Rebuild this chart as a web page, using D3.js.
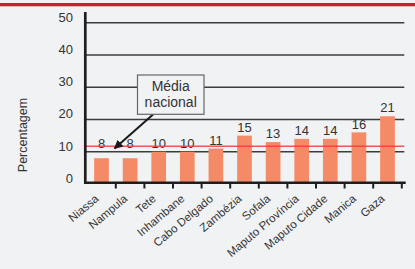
<!DOCTYPE html>
<html>
<head>
<meta charset="utf-8">
<script src="https://cdn.jsdelivr.net/npm/d3@7"></script>
<style>
  body { margin: 0; background: #f1f2f4; }
  svg { display: block; font-family: "Liberation Sans", Arial, sans-serif; }
</style>
</head>
<body>
<svg class="chart"></svg>
<script>
const provinces = ['Niassa', 'Nampula', 'Tete', 'Inhambane', 'Cabo Delgado', 'Zambézia',
  'Sofala', 'Maputo Província', 'Maputo Cidade', 'Manica', 'Gaza'];
const percentages = [8, 8, 10, 10, 11, 15, 13, 14, 14, 16, 21];
const nationalAverage = [11.7];
const yTicks = [0, 10, 20, 30, 40, 50];
const calloutLines = ['Média', 'nacional'];

const svgWidth = 415;
const svgHeight = 269;
const bg = '#f1f2f4';

const svg = d3.select('.chart')
  .attr('width', svgWidth)
  .attr('height', svgHeight);

svg.append('rect')
  .attr('width', svgWidth).attr('height', svgHeight)
  .attr('fill', bg);

// red band at the top
svg.append('rect')
  .attr('x', 0).attr('y', 3)
  .attr('width', svgWidth).attr('height', 3.3)
  .attr('fill', '#c4222e');

const x = d3.scaleBand()
  .domain(provinces)
  .range([87.2, 401.8])
  .paddingInner(0.486)
  .paddingOuter(0.243);

const y = d3.scaleLinear()
  .domain([0, 50])
  .range([184, 22.7]);

const axisY = 182.7;

// gridlines
svg.append('g')
  .selectAll('line')
  .data(yTicks.filter(d => d > 0))
  .join('line')
  .attr('x1', 86).attr('x2', 404.3)
  .attr('y1', d => y(d)).attr('y2', d => y(d))
  .attr('stroke', '#3c3c3c')
  .attr('stroke-width', 1.4);

// y tick labels (sit a bit above their gridlines, like the original)
svg.append('g')
  .selectAll('text')
  .data(yTicks)
  .join('text')
  .attr('x', 73)
  .attr('y', d => y(d) - 5.5)
  .attr('dominant-baseline', 'central')
  .attr('text-anchor', 'end')
  .attr('font-size', '13px')
  .attr('fill', '#333')
  .text(d => d);

// bars
svg.append('g')
  .selectAll('rect')
  .data(percentages)
  .join('rect')
  .attr('x', (d, i) => x(provinces[i]))
  .attr('y', d => y(d))
  .attr('width', x.bandwidth())
  .attr('height', d => y(0) - y(d))
  .attr('fill', '#f58b66');

// value labels
svg.append('g')
  .selectAll('text')
  .data(percentages)
  .join('text')
  .attr('x', (d, i) => x(provinces[i]) + x.bandwidth() / 2)
  .attr('y', d => y(Math.max(d, 10)) - 3.8)
  .attr('text-anchor', 'middle')
  .attr('font-size', '13px')
  .attr('fill', '#333')
  .text(d => d);

// national average line
svg.append('line')
  .attr('x1', 86).attr('x2', 404.3)
  .attr('y1', y(nationalAverage[0])).attr('y2', y(nationalAverage[0]))
  .attr('stroke', '#f03c3c')
  .attr('stroke-opacity', 0.85)
  .attr('stroke-width', 1.5);

// axes
svg.append('line')
  .attr('x1', 85.3).attr('x2', 85.3)
  .attr('y1', 12).attr('y2', 184)
  .attr('stroke', '#1e1e1e')
  .attr('stroke-width', 2.7);

svg.append('line')
  .attr('x1', 84).attr('x2', 405.7)
  .attr('y1', axisY).attr('y2', axisY)
  .attr('stroke', '#1e1e1e')
  .attr('stroke-width', 2.5);

// ticks between the bars
svg.append('g')
  .selectAll('line')
  .data(provinces)
  .join('line')
  .attr('x1', d => x(d) + x.bandwidth() + x.step() * x.paddingInner() / 2)
  .attr('x2', d => x(d) + x.bandwidth() + x.step() * x.paddingInner() / 2)
  .attr('y1', axisY).attr('y2', 188.5)
  .attr('stroke', '#1e1e1e')
  .attr('stroke-width', 2);

// category labels
svg.append('g')
  .selectAll('text')
  .data(provinces)
  .join('text')
  .attr('transform', d => `translate(${x(d) + x.bandwidth() / 2 - 2}, 200) rotate(-40)`)
  .attr('text-anchor', 'end')
  .attr('font-size', '11.5px')
  .attr('fill', '#333')
  .text(d => d);

// y axis title
svg.append('text')
  .attr('transform', 'translate(23, 135) rotate(-90)')
  .attr('text-anchor', 'middle')
  .attr('dominant-baseline', 'central')
  .attr('font-size', '12.5px')
  .attr('fill', '#333')
  .text('Percentagem');

// callout with arrow
svg.append('defs').append('marker')
  .attr('id', 'arrow')
  .attr('viewBox', '0 0 10 10')
  .attr('refX', 9).attr('refY', 5)
  .attr('markerWidth', 4.5).attr('markerHeight', 4.5)
  .attr('orient', 'auto')
  .append('path')
  .attr('d', 'M0,0 L10,5 L0,10 z')
  .attr('fill', '#1a1a1a');

svg.append('line')
  .attr('x1', 153.3).attr('y1', 114.3)
  .attr('x2', 114.5).attr('y2', 148.5)
  .attr('stroke', '#1a1a1a')
  .attr('stroke-width', 2)
  .attr('marker-end', 'url(#arrow)');

svg.append('rect')
  .attr('x', 137.5).attr('y', 75)
  .attr('width', 66.5).attr('height', 39.3)
  .attr('fill', bg)
  .attr('stroke', '#666')
  .attr('stroke-width', 1.2);

svg.append('g')
  .selectAll('text')
  .data(calloutLines)
  .join('text')
  .attr('x', 170.7)
  .attr('y', (d, i) => 90.7 + i * 16)
  .attr('text-anchor', 'middle')
  .attr('font-size', '14px')
  .attr('fill', '#333')
  .text(d => d);
</script>
</body>
</html>
